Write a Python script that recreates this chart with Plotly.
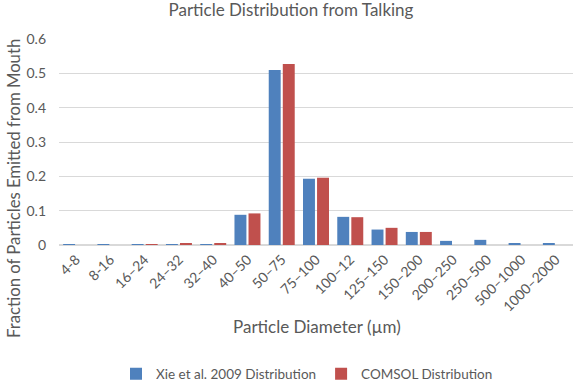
import plotly.graph_objects as go

categories = ["4-8", "8-16", "16–24", "24–32", "32–40", "40–50", "50–75", "75–100",
              "100–12", "125–150", "150–200", "200–250", "250–500", "500–1000", "1000–2000"]
xie = [0.002, 0.002, 0.002, 0.002, 0.002, 0.088, 0.510, 0.193, 0.082, 0.045, 0.038, 0.012, 0.015, 0.003, 0.003]
comsol = [0.0, 0.0, 0.002, 0.004, 0.005, 0.092, 0.527, 0.196, 0.081, 0.050, 0.038, 0.0, 0.0, 0.0, 0.0]
y_ticks = [0, 0.1, 0.2, 0.3, 0.4, 0.5, 0.6]
y_ticklabels = ["0", "0.1", "0.2", "0.3", "0.4", "0.5", "0.6"]

font_family = "Lato, Open Sans, sans-serif"
grey = "#595959"

fig = go.Figure()
fig.add_trace(go.Bar(x=categories, y=xie, name="Xie et al. 2009 Distribution",
                     marker=dict(color="#4F81BD", line=dict(width=0))))
fig.add_trace(go.Bar(x=categories, y=comsol, name="COMSOL Distribution",
                     marker=dict(color="#C0504D", line=dict(width=0))))

plot_h = 206
plot_w = 514
fig.update_layout(
    width=582, height=384,
    margin=dict(l=59, r=9, t=39, b=139, autoexpand=False),
    paper_bgcolor="white", plot_bgcolor="white",
    font=dict(family=font_family, color=grey, size=13),
    title=dict(text="Particle Distribution from Talking", x=0.5, xanchor="center",
               y=0.99, yanchor="top", font=dict(size=17, color=grey)),
    barmode="group", bargap=0.18, bargroupgap=0.15,
    showlegend=True,
    legend=dict(orientation="h", x=(116 - 59) / plot_w, xanchor="left", y=(245 - 374) / plot_h,
                yanchor="middle", font=dict(size=13.5, color=grey), traceorder="normal",
                itemwidth=30, bgcolor="rgba(0,0,0,0)"),
    xaxis=dict(tickangle=-45, showline=True, linecolor="#D9D9D9", ticks="", automargin=False,
               tickfont=dict(size=14, color=grey)),
    yaxis=dict(range=[0, 0.6], tickvals=y_ticks, ticktext=y_ticklabels, automargin=False,
               showgrid=True, gridcolor="#D9D9D9", zeroline=True, zerolinecolor="#D9D9D9",
               tickfont=dict(size=14, color=grey), ticks="", ticklabelstandoff=12),
    annotations=[
        dict(text="Particle Diameter (µm)", xref="paper", yref="paper", x=0.5 + (317 - 316) / plot_w,
             y=(245 - 326) / plot_h, xanchor="center", yanchor="middle", showarrow=False,
             font=dict(size=17, color=grey)),
        dict(text="Fraction of Particles Emitted from Mouth", xref="paper", yref="paper",
             x=(14 - 59) / plot_w, y=(245 - 189) / plot_h, xanchor="center", yanchor="middle",
             textangle=-90, showarrow=False, font=dict(size=16.7, color=grey)),
    ],
)
fig.write_html("out.html", config={"displayModeBar": False},
               post_script="document.body.style.margin='0';document.body.style.overflow='hidden';")
